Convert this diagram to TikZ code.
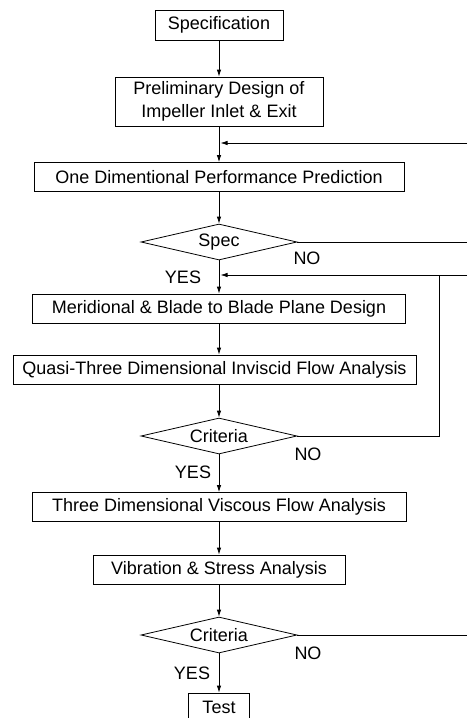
\documentclass[tikz,border=0pt]{standalone}
\usepackage{fontspec}
\setmainfont{Liberation Sans}
\usetikzlibrary{shapes.geometric,arrows.meta}
\begin{document}
\begin{tikzpicture}
  [x=1pt,y=-1pt,line width=0.8pt,font=\fontsize{18}{23}\selectfont,
   every node/.style={inner sep=0pt},
   stepbox/.style={draw,rectangle,minimum height=29pt,align=center},
   check/.style={draw,diamond,shape aspect=4.3,minimum width=156pt,minimum height=36pt},
   flow/.style={-{Latex[length=7pt,width=4.5pt]}}]
  \useasboundingbox (0,0) rectangle (467,718);
  \clip (0,0) rectangle (467,718);

  \node[stepbox,minimum width=128pt,minimum height=30pt] (spec) at (219,25) {Specification};
  \node[stepbox,minimum width=208pt,minimum height=49pt] (prelim) at (219,101.5) {Preliminary Design of\\Impeller Inlet \& Exit};
  \node[stepbox,minimum width=370pt] (onedim) at (219,177) {One Dimentional Performance Prediction};
  \node[check] (d1) at (219,242) {Spec};
  \node[stepbox,minimum width=373pt] (merid) at (219,308.5) {Meridional \& Blade to Blade Plane Design};
  \node[stepbox,minimum width=403pt] (quasi) at (214.5,369.5) {Quasi-Three Dimensional Inviscid Flow Analysis};
  \node[check] (d2) at (219,436) {Criteria};
  \node[stepbox,minimum width=374pt] (threed) at (219,507) {Three Dimensional Viscous Flow Analysis};
  \node[stepbox,minimum width=252pt] (vib) at (219,569.5) {Vibration \& Stress Analysis};
  \node[check] (d3) at (219,635) {Criteria};
  \node[stepbox,minimum width=61pt] (test) at (219,707.5) {Test};

  % answer labels
  \node (no1) at (307,258) {NO};
  \node (yes1) at (183,277) {YES};
  \node (no2) at (308,454) {NO};
  \node (yes2) at (193,472) {YES};
  \node (no3) at (308,653) {NO};
  \node (yes3) at (192,673) {YES};

  % loop ends
  \coordinate (in1) at (467,143);
  \coordinate (out1) at (467,242);
  \coordinate (in2) at (467,275);
  \coordinate (turn) at (439,275);
  \coordinate (out3) at (467,635);

  \path[flow]
    (spec) edge (prelim)
    (prelim) edge (onedim)
    (onedim) edge (d1)
    (d1) edge (merid)
    (merid.south) edge (merid.south |- quasi.north)
    (quasi.south -| d2) edge (d2)
    (d2) edge (threed)
    (threed) edge (vib)
    (vib) edge (d3)
    (d3) edge (test)
    (in1) edge[shorten >=1.5pt] (in1 -| prelim.south)
    (in2) edge[shorten >=1.5pt] (in2 -| d1.south)
    ;
  \draw (d1.east) -- (out1);
  \draw (d2.east) -| (turn);
  \draw (d3.east) -- (out3);
\end{tikzpicture}
\end{document}
